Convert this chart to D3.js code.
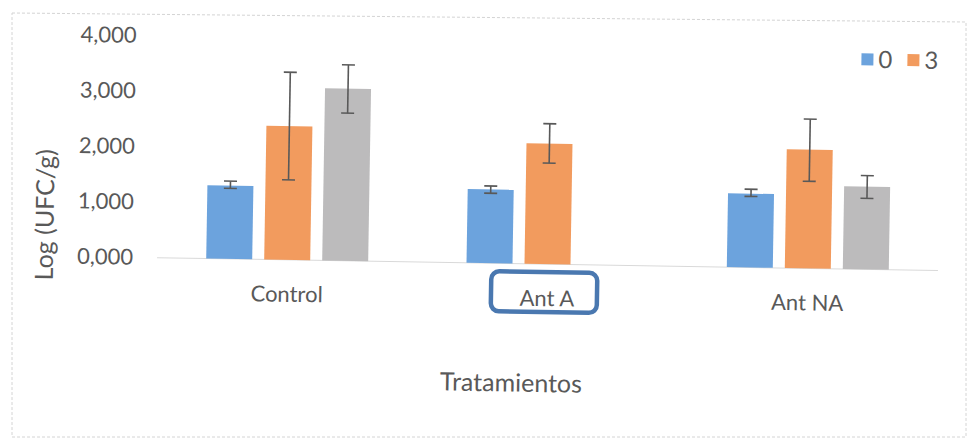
<!DOCTYPE html>
<html>
<head>
<meta charset="utf-8">
<script src="https://cdn.jsdelivr.net/npm/d3@7"></script>
<style>
  html, body { margin: 0; padding: 0; background: #ffffff; }
  svg { display: block; font-family: Lato, "Open Sans", sans-serif; }
</style>
</head>
<body>
<svg id="chart" width="974" height="448"></svg>
<script>
// ---- data ----
const categories = ["Control", "Ant A", "Ant NA"];
const seriesNames = ["0", "3", "7"];
const legendSeries = ["0", "3"];
const values0 = [1.32, 1.33, 1.33];
const values3 = [2.41, 2.17, 2.14];
const values7 = [3.10, null, 1.49];
const errLow0 = [1.27, 1.26, 1.28];
const errHigh0 = [1.40, 1.39, 1.41];
const errLow3 = [1.44, 1.82, 1.57];
const errHigh3 = [3.38, 2.53, 2.69];
const errLow7 = [2.66, null, 1.28];
const errHigh7 = [3.53, null, 1.69];
const yTicks = [0, 1, 2, 3, 4];
const xTitle = "Tratamientos";
const yTitle = "Log (UFC/g)";
const highlighted = "Ant A";

const seriesValues = [values0, values3, values7];
const seriesLow = [errLow0, errLow3, errLow7];
const seriesHigh = [errHigh0, errHigh3, errHigh7];
const colors = ["#6ca3dd", "#f29b5e", "#bcbbbc"];

const svg = d3.select("#chart");

// photo frame (faint dotted border)
svg.append("path")
  .attr("d", "M12,13 L966,22 L966,437 L12,437 Z")
  .attr("fill", "none")
  .attr("stroke", "#d4d4d4")
  .attr("stroke-width", 1)
  .attr("stroke-dasharray", "3,2");

// whole chart slightly rotated like the photographed page
const g = svg.append("g").attr("transform", "rotate(0.95,480,263)");

const x = d3.scaleBand().domain(categories).range([157, 938]).padding(0);
const xs = d3.scaleBand().domain(seriesNames).range([-87, 87])
  .paddingInner(0.2069).paddingOuter(0.1035);
const y = d3.scaleLinear().domain([0, 4]).range([263, 41]);

const fmt = d3.formatLocale({decimal: ",", thousands: ".", grouping: [3], currency: ["", ""]}).format(".3f");

// baseline
g.append("line")
  .attr("x1", x.range()[0]).attr("x2", x.range()[1])
  .attr("y1", y(0)).attr("y2", y(0))
  .attr("stroke", "#d9d9d9").attr("stroke-width", 1);

// y axis labels
const yAxis = d3.axisLeft(y).tickValues(yTicks).tickFormat(fmt).tickSize(0).tickPadding(0);
const ya = g.append("g").attr("transform", "translate(133,0)").call(yAxis);
ya.select(".domain").remove();
ya.selectAll("text").attr("fill", "#595959").style("font-size", "22px").style("font-family", "Lato");

// x axis labels
const xAxis = d3.axisBottom(x).tickSize(0).tickPadding(0);
const xa = g.append("g").attr("transform", "translate(0,305)").call(xAxis);
xa.select(".domain").remove();
xa.selectAll("text").attr("dy", 0).attr("fill", "#595959").style("font-size", "22px").style("font-family", "Lato");

// bars
seriesNames.forEach((s, si) => {
  const data = categories.map((c, ci) => ({c, v: seriesValues[si][ci], lo: seriesLow[si][ci], hi: seriesHigh[si][ci]}))
    .filter(d => d.v != null);
  const sg = g.append("g");
  sg.selectAll("rect").data(data).join("rect")
    .attr("x", d => x(d.c) + x.bandwidth() / 2 + xs(s))
    .attr("y", d => y(d.v))
    .attr("width", xs.bandwidth())
    .attr("height", d => y(0) - y(d.v))
    .attr("fill", colors[si]);
  const cx = d => x(d.c) + x.bandwidth() / 2 + xs(s) + xs.bandwidth() / 2;
  sg.selectAll("line.v").data(data).join("line").attr("class", "v")
    .attr("x1", cx).attr("x2", cx)
    .attr("y1", d => y(d.lo)).attr("y2", d => y(d.hi))
    .attr("stroke", "#595959").attr("stroke-width", 1.6);
  ["lo", "hi"].forEach(k => {
    sg.selectAll("line." + k).data(data).join("line").attr("class", k)
      .attr("x1", d => cx(d) - 6.5).attr("x2", d => cx(d) + 6.5)
      .attr("y1", d => y(d[k])).attr("y2", d => y(d[k]))
      .attr("stroke", "#595959").attr("stroke-width", 1.6);
  });
});

// highlight box around "Ant A"
const hx = x(highlighted) + x.bandwidth() / 2 - 3;
g.append("rect")
  .attr("x", hx - 53).attr("y", 271)
  .attr("width", 106).attr("height", 40)
  .attr("rx", 8).attr("ry", 8)
  .attr("fill", "none").attr("stroke", "#4a78b0").attr("stroke-width", 4.5);

// axis titles
g.append("text")
  .attr("x", 513).attr("y", 391)
  .attr("text-anchor", "middle")
  .attr("fill", "#595959").style("font-size", "25px")
  .text(xTitle);
g.append("text")
  .attr("transform", "translate(53,222) rotate(-90)")
  .attr("text-anchor", "middle")
  .attr("fill", "#595959").style("font-size", "25px")
  .text(yTitle);

// legend
const lg = g.append("g").attr("transform", "translate(858,47)");
const li = lg.selectAll("g").data(legendSeries).join("g")
  .attr("transform", (d, i) => `translate(${i * 46},0)`);
li.append("rect").attr("width", 12).attr("height", 12)
  .attr("fill", (d, i) => colors[i]);
li.append("text").attr("x", 17).attr("y", 6).attr("dy", "0.35em")
  .attr("fill", "#595959").style("font-size", "24px")
  .text(d => d);
</script>
</body>
</html>
